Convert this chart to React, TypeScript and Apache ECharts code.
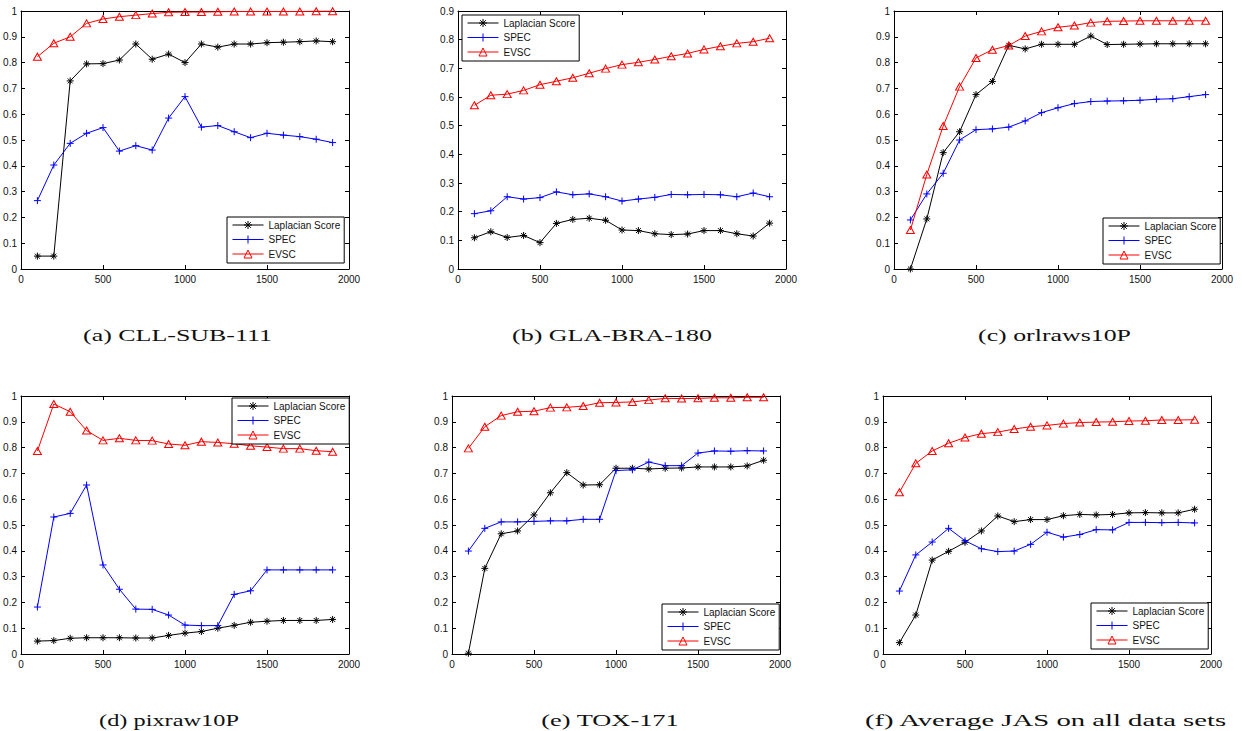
import React, { useEffect, useRef } from "react";
import * as echarts from "echarts";

// ---------- data ----------
const featureCounts = [100, 200, 300, 400, 500, 600, 700, 800, 900, 1000, 1100, 1200, 1300, 1400, 1500, 1600, 1700, 1800, 1900];
const seriesNames = ["Laplacian Score", "SPEC", "EVSC"];
const xTicks = [0, 500, 1000, 1500, 2000];

// (a) CLL-SUB-111
const cllLaplacian = [0.05, 0.05, 0.729, 0.795, 0.796, 0.81, 0.872, 0.813, 0.833, 0.8, 0.872, 0.86, 0.872, 0.872, 0.877, 0.879, 0.881, 0.884, 0.881];
const cllSpec = [0.265, 0.403, 0.487, 0.526, 0.548, 0.457, 0.478, 0.461, 0.585, 0.668, 0.55, 0.556, 0.532, 0.509, 0.526, 0.519, 0.513, 0.503, 0.49];
const cllEvsc = [0.823, 0.875, 0.9, 0.952, 0.969, 0.978, 0.984, 0.99, 0.995, 0.996, 0.996, 0.997, 0.998, 0.998, 0.998, 0.998, 0.998, 0.999, 0.999];

// (b) GLA-BRA-180
const glaLaplacian = [0.109, 0.13, 0.11, 0.117, 0.092, 0.159, 0.173, 0.177, 0.17, 0.136, 0.134, 0.123, 0.12, 0.122, 0.134, 0.134, 0.123, 0.115, 0.16];
const glaSpec = [0.193, 0.203, 0.252, 0.244, 0.249, 0.269, 0.259, 0.262, 0.252, 0.237, 0.244, 0.25, 0.26, 0.259, 0.26, 0.259, 0.252, 0.265, 0.252];
const glaEvsc = [0.571, 0.606, 0.61, 0.623, 0.643, 0.655, 0.667, 0.683, 0.699, 0.713, 0.721, 0.731, 0.742, 0.752, 0.766, 0.777, 0.787, 0.793, 0.805];

// (c) orlraws10P
const orlLaplacian = [0, 0.194, 0.451, 0.532, 0.676, 0.727, 0.867, 0.853, 0.871, 0.871, 0.871, 0.903, 0.87, 0.871, 0.872, 0.873, 0.873, 0.873, 0.873];
const orlSpec = [0.19, 0.291, 0.371, 0.5, 0.54, 0.543, 0.55, 0.574, 0.606, 0.625, 0.641, 0.649, 0.651, 0.652, 0.654, 0.658, 0.66, 0.668, 0.676];
const orlEvsc = [0.151, 0.366, 0.554, 0.707, 0.818, 0.85, 0.866, 0.903, 0.921, 0.937, 0.944, 0.955, 0.96, 0.961, 0.962, 0.962, 0.962, 0.962, 0.962];

// (d) pixraw10P
const pixLaplacian = [0.05, 0.052, 0.061, 0.063, 0.063, 0.063, 0.062, 0.062, 0.072, 0.081, 0.087, 0.1, 0.111, 0.123, 0.127, 0.13, 0.13, 0.13, 0.134];
const pixSpec = [0.182, 0.531, 0.545, 0.655, 0.345, 0.251, 0.174, 0.173, 0.151, 0.112, 0.11, 0.11, 0.231, 0.245, 0.326, 0.326, 0.326, 0.326, 0.326];
const pixEvsc = [0.787, 0.969, 0.939, 0.866, 0.828, 0.836, 0.828, 0.827, 0.814, 0.809, 0.823, 0.82, 0.815, 0.807, 0.802, 0.796, 0.796, 0.788, 0.784];

// (e) TOX-171
const toxLaplacian = [0.003, 0.332, 0.466, 0.477, 0.539, 0.625, 0.703, 0.655, 0.656, 0.72, 0.72, 0.717, 0.72, 0.721, 0.725, 0.725, 0.725, 0.729, 0.751];
const toxSpec = [0.399, 0.487, 0.512, 0.512, 0.514, 0.516, 0.516, 0.522, 0.522, 0.711, 0.714, 0.744, 0.73, 0.73, 0.779, 0.787, 0.786, 0.788, 0.787];
const toxEvsc = [0.797, 0.881, 0.924, 0.939, 0.941, 0.955, 0.956, 0.961, 0.974, 0.975, 0.977, 0.984, 0.991, 0.99, 0.991, 0.993, 0.993, 0.995, 0.995];

// (f) Average JAS on all data sets
const avgLaplacian = [0.044, 0.151, 0.364, 0.398, 0.433, 0.477, 0.535, 0.513, 0.521, 0.521, 0.536, 0.541, 0.539, 0.541, 0.547, 0.548, 0.547, 0.547, 0.561];
const avgSpec = [0.244, 0.384, 0.434, 0.487, 0.439, 0.408, 0.397, 0.399, 0.425, 0.472, 0.453, 0.463, 0.482, 0.481, 0.51, 0.51, 0.509, 0.51, 0.508];
const avgEvsc = [0.627, 0.739, 0.787, 0.817, 0.839, 0.854, 0.86, 0.872, 0.881, 0.886, 0.893, 0.897, 0.899, 0.9, 0.903, 0.904, 0.907, 0.907, 0.908];

const captions = [
  "(a) CLL-SUB-111",
  "(b) GLA-BRA-180",
  "(c) orlraws10P",
  "(d) pixraw10P",
  "(e) TOX-171",
  "(f) Average JAS on all data sets",
];
const panelValues = [
  [cllLaplacian, cllSpec, cllEvsc],
  [glaLaplacian, glaSpec, glaEvsc],
  [orlLaplacian, orlSpec, orlEvsc],
  [pixLaplacian, pixSpec, pixEvsc],
  [toxLaplacian, toxSpec, toxEvsc],
  [avgLaplacian, avgSpec, avgEvsc],
];
const panelYMax = [1, 0.9, 1, 1, 1, 1];

// ---------- layout ----------
// grid: [left, top]; legend: [left, top]; cap: [left, right, centreY]
const layout = [
  { grid: [21, 11], legend: [227, 217], cap: [83, 272, 335] },
  { grid: [458, 11], legend: [462, 15], cap: [512, 712, 335] },
  { grid: [894, 11], legend: [1103, 218], cap: [978, 1131, 335] },
  { grid: [21, 396], legend: [232, 398], cap: [99, 239, 720] },
  { grid: [452, 396], legend: [662, 604], cap: [541, 679, 720] },
  { grid: [883, 396], legend: [1091, 603], cap: [864, 1227, 720] },
];
const GW = 328;
const GH = 258;
const CAP_SIZE = 17;

const SANS = "Liberation Sans, Arial, Helvetica, sans-serif";
const SERIF = "Liberation Serif, Times New Roman, serif";

const ASTERISK = "path://M5,0L5,10M0,5L10,5M1.5,1.5L8.5,8.5M8.5,1.5L1.5,8.5";
const PLUS = "path://M5,0L5,10M0,5L10,5";

const seriesStyles = [
  { color: "#000000", symbol: ASTERISK, symbolSize: 7, fill: "rgba(0,0,0,0)" },
  { color: "#0000ff", symbol: PLUS, symbolSize: 7, fill: "rgba(0,0,0,0)" },
  { color: "#ff0000", symbol: "triangle", symbolSize: [8, 7], fill: "rgba(255,255,255,0)" },
];

function measure(text: string, font: string): number {
  const c = document.createElement("canvas");
  const ctx = c.getContext("2d");
  if (!ctx) return text.length * 8;
  ctx.font = font;
  return ctx.measureText(text).width;
}

function buildOption() {
  const grid: any[] = [];
  const xAxis: any[] = [];
  const yAxis: any[] = [];
  const series: any[] = [];
  const legend: any[] = [];
  const graphic: any[] = [];

  layout.forEach((L, i) => {
    grid.push({ left: L.grid[0], top: L.grid[1], width: GW, height: GH, containLabel: false });
    const axisCommon = {
      type: "value",
      gridIndex: i,
      axisLine: { show: true, onZero: false, lineStyle: { color: "#000", width: 1 } },
      axisTick: { show: true, inside: true, length: 4, lineStyle: { color: "#000", width: 1 } },
      splitLine: { show: false },
    };
    const xMin = xTicks[0];
    const xMax = xTicks[xTicks.length - 1];
    const xInterval = xTicks[1] - xTicks[0];
    xAxis.push({
      ...axisCommon,
      position: "bottom",
      min: xMin,
      max: xMax,
      interval: xInterval,
      axisLabel: {
        show: true,
        margin: 5,
        fontSize: 10,
        fontFamily: SANS,
        color: "#111",
        formatter: (v: number) => String(v),
      },
    });
    xAxis.push({
      ...axisCommon,
      position: "top",
      min: xMin,
      max: xMax,
      interval: xInterval,
      axisLabel: { show: false },
    });
    yAxis.push({
      ...axisCommon,
      position: "left",
      min: 0,
      max: panelYMax[i],
      interval: 0.1,
      axisLabel: {
        show: true,
        margin: 4,
        fontSize: 10,
        fontFamily: SANS,
        color: "#111",
        formatter: (v: number) => String(Math.round(v * 10) / 10),
      },
    });
    yAxis.push({
      ...axisCommon,
      position: "right",
      min: 0,
      max: panelYMax[i],
      interval: 0.1,
      axisLabel: { show: false },
    });

    panelValues[i].forEach((vals, k) => {
      const st = seriesStyles[k];
      series.push({
        type: "line",
        name: seriesNames[k],
        xAxisIndex: 2 * i,
        yAxisIndex: 2 * i,
        data: featureCounts.map((x, j) => [x, vals[j]]),
        symbol: st.symbol,
        symbolSize: st.symbolSize,
        showAllSymbol: true,
        clip: false,
        color: st.color,
        lineStyle: { color: st.color, width: 1 },
        itemStyle: { color: st.fill, borderColor: st.color, borderWidth: 1 },
        emphasis: { disabled: true },
        z: 2 + k,
      });
    });

    legend.push({
      show: true,
      orient: "vertical",
      left: L.legend[0],
      top: L.legend[1],
      padding: [3, 4, 4, 5],
      itemGap: 4.5,
      itemWidth: 31,
      itemHeight: 10,
      borderColor: "#000",
      borderWidth: 1,
      borderRadius: 0,
      backgroundColor: "#fff",
      selectedMode: false,
      textStyle: { fontSize: 10, fontFamily: SANS, color: "#111" },
      data: seriesNames.map((n, k) => ({
        name: n,
        itemStyle: {
          color: seriesStyles[k].fill,
          borderColor: seriesStyles[k].color,
          borderWidth: 1,
        },
        lineStyle: { color: seriesStyles[k].color, width: 1 },
      })),
      z: 10,
    });

    const font = `${CAP_SIZE}px ${SERIF}`;
    const w = measure(captions[i], font);
    const target = L.cap[1] - L.cap[0];
    graphic.push({
      type: "text",
      x: (L.cap[0] + L.cap[1]) / 2,
      y: L.cap[2],
      scaleX: w > 0 ? target / w : 1.6,
      style: {
        text: captions[i],
        font,
        fill: "#111",
        align: "center",
        verticalAlign: "middle",
      },
    });
  });

  return {
    animation: false,
    backgroundColor: "#ffffff",
    grid,
    xAxis,
    yAxis,
    series,
    legend,
    graphic,
  };
}

export default function App() {
  const ref = useRef<HTMLDivElement>(null);
  useEffect(() => {
    if (!ref.current) return;
    const chart = echarts.init(ref.current, undefined, { renderer: "svg" });
    chart.setOption(buildOption());
    return () => chart.dispose();
  }, []);
  return (
    <div
      ref={ref}
      style={{ position: "fixed", left: 0, top: 0, width: 1242, height: 731, background: "#fff" }}
    />
  );
}
